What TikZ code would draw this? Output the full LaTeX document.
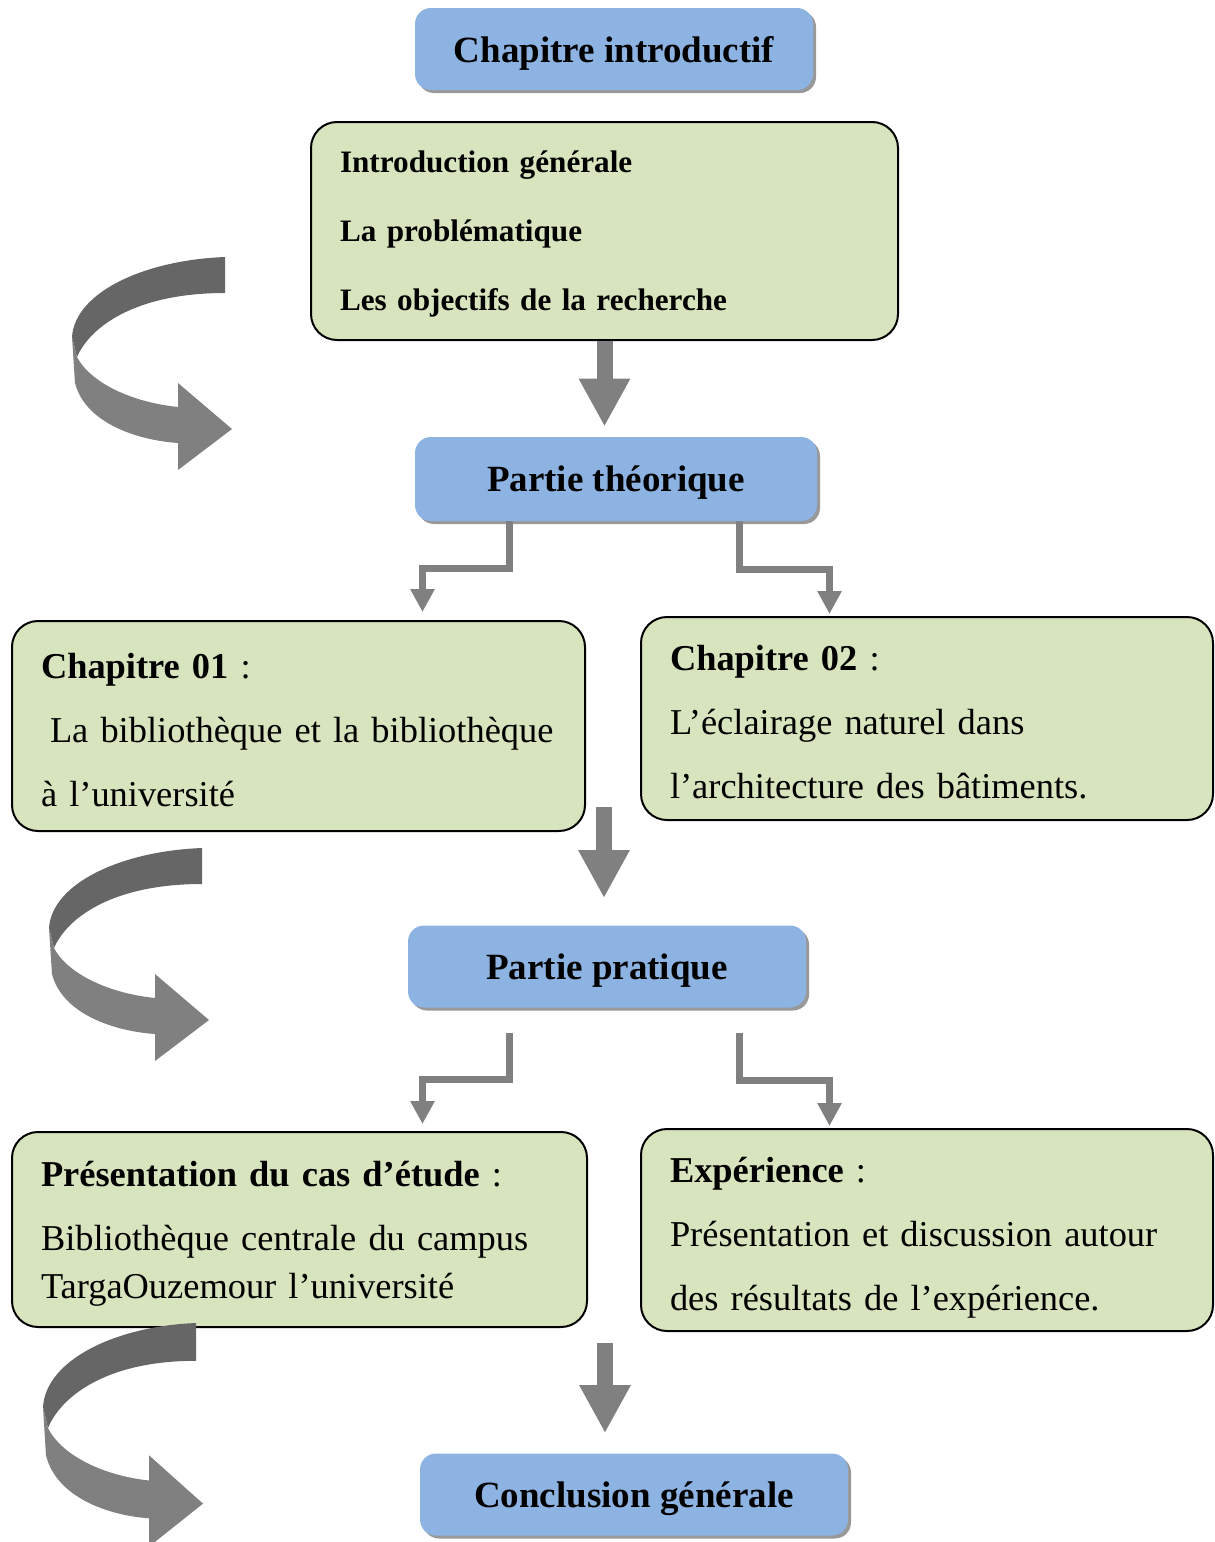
\documentclass[tikz,border=0pt]{standalone}
\usepackage{fontspec}
\setmainfont{Liberation Serif}
\usetikzlibrary{arrows.meta,shadows}
\definecolor{boxblue}{HTML}{8DB3E2}
\definecolor{boxgreen}{HTML}{D7E4BD}
\definecolor{arrowgray}{HTML}{808080}
\definecolor{arrowdark}{HTML}{666666}
\tikzset{
  titlebox/.style={fill=boxblue, rounded corners=8pt, minimum width=199pt, minimum height=41pt,
    text depth=0pt, font=\fontsize{18.5}{22}\selectfont\bfseries,
    drop shadow={shadow xshift=1.5pt, shadow yshift=-1.5pt, fill=black!40, opacity=1}},
  textbox/.style={draw, line width=1pt, fill=boxgreen, rounded corners=13pt, inner xsep=14.5pt,
    text height=16.6pt, align=left, font=\fontsize{18.2}{32}\selectfont},
  bigarrow/.style={arrowgray, line width=8pt, -{Triangle[width=24pt,length=24pt]}},
  bentarrow/.style={arrowgray, line width=3.5pt, -{Triangle[width=11.5pt,length=11.5pt]}},
  curly/.pic={
    \fill[arrowdark] (0,0) .. controls (-80,3) and (-150,35) .. (-153,80) -- (-148,100)
      .. controls (-135,70) and (-90,36) .. (0,36) -- cycle;
    \fill[arrowgray] (-153,80) -- (-150,126) .. controls (-140,165) and (-90,183) .. (-47,186)
      -- (-47,213) -- (7,172) -- (-47,126) -- (-47,150)
      .. controls (-95,145) and (-135,125) .. (-148,100) -- cycle;
  }
}
\begin{document}
\begin{tikzpicture}[x=0.5pt, y=-0.5pt]
    \useasboundingbox (0,0) rectangle (1215,1542);
    \node[titlebox] (intro) at (614,49) {Chapitre introductif};
    \node[textbox, text width=264.5pt, minimum height=109pt, text height=14.2pt, font=\fontsize{15.6}{34.5}\selectfont\bfseries] (gen) at (604.5,231)
        {Introduction générale\\La problématique\\Les objectifs de la recherche};
    \node[titlebox, minimum width=201pt, minimum height=42pt] (theo) at (616,479) {Partie théorique};
    \node[textbox, text width=257.5pt, minimum height=105pt] (ch1) at (298.5,726)
        {\textbf{Chapitre 01} :\\\mbox{\hspace*{4.5pt}La bibliothèque et la bibliothèque}\\à l’université};
    \node[textbox, text width=257pt, minimum height=101.5pt] (ch2) at (927,718.5)
        {\textbf{Chapitre 02} :\\L’éclairage naturel dans\\l’architecture des bâtiments.};
    \node[titlebox] (prat) at (607,966.5) {Partie pratique};
    \node[textbox, text width=258.5pt, minimum height=97.5pt, text height=17pt] (pres) at (299.5,1229.5)
        {\textbf{Présentation du cas d’étude} :\\\mbox{Bibliothèque centrale du campus}\\[-8pt]TargaOuzemour l’université};
    \node[textbox, text width=257pt, minimum height=101pt, text height=20pt] (exp) at (927,1230)
        {\textbf{Expérience} :\\\mbox{Présentation et discussion autour}\\des résultats de l’expérience.};
    \node[titlebox, minimum width=214pt] (concl) at (634,1494.5) {Conclusion générale};
    \coordinate (a2) at (604,807);
    \coordinate (a3) at (605,1343);
    \draw[bigarrow, shorten >=5pt] (gen.south) -- (theo.north -| gen.south);
    \draw[bigarrow, shorten >=13.5pt] (a2) -- (prat.north -| a2);
    \draw[bigarrow, shorten >=10pt] (a3) -- (concl.north -| a3);
    \draw[bentarrow, shorten >=4pt] (theo.south -| 509.5,0) -- ++(0,47.5) -| (ch1.north -| 422.5,0);
    \draw[bentarrow, shorten >=1pt] (theo.south -| 739.5,0) -- ++(0,48.5) -| (ch2.north -| 829.5,0);
    \draw[bentarrow, shorten <=12.75pt, shorten >=3.5pt] (prat.south -| 509.5,0) -- ++(0,72) -| (pres.north -| 422.5,0);
    \draw[bentarrow, shorten <=12.75pt, shorten >=1pt] (prat.south -| 739.5,0) -- ++(0,73) -| (exp.north -| 829.5,0);
    \pic at (225,257) {curly};
    \pic at (202,848) {curly};
    \pic[yscale=1.05] at (196,1323) {curly};
\end{tikzpicture}
\end{document}
